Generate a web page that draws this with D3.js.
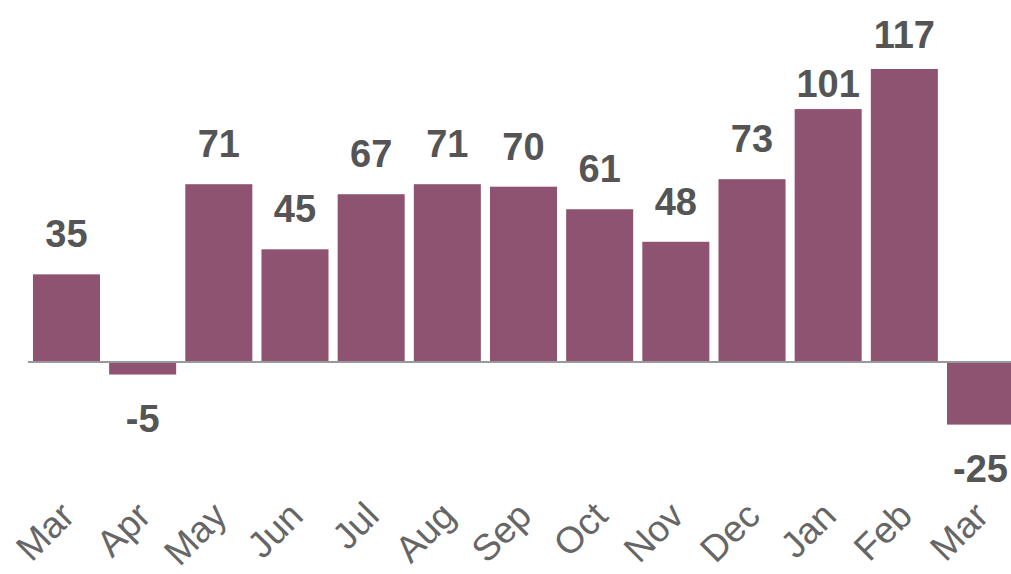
<!DOCTYPE html>
<html>
<head>
<meta charset="utf-8">
<script src="https://cdn.jsdelivr.net/npm/d3@7"></script>
<style>
  body { margin: 0; background: #fff; }
  svg { display: block; font-family: "Liberation Sans", Arial, sans-serif; }
</style>
</head>
<body>
<svg id="chart" width="1011" height="574"></svg>
<script>
// --- data ---
const months = ["Mar","Apr","May","Jun","Jul","Aug","Sep","Oct","Nov","Dec","Jan","Feb","Mar"];
const values = [35, -5, 71, 45, 67, 71, 70, 61, 48, 73, 101, 117, -25];

const width = 1011, height = 574;
const svg = d3.select("#chart");

const data = months.map((m, i) => ({ key: i, month: m, value: values[i] }));

const x = d3.scaleBand()
  .domain(data.map(d => d.key))
  .range([28.4, 1018.6])
  .paddingInner(0.12)
  .paddingOuter(0.06);

const y = d3.scaleLinear()
  .domain([0, 117])
  .range([362, 69]);

// bars
svg.append("g").selectAll("rect").data(data).join("rect")
  .attr("x", d => x(d.key))
  .attr("width", x.bandwidth())
  .attr("y", d => Math.min(y(d.value), y(0)))
  .attr("height", d => Math.abs(y(d.value) - y(0)))
  .attr("fill", "#8e5370");

// zero line
svg.append("line")
  .attr("x1", 28).attr("x2", width)
  .attr("y1", y(0)).attr("y2", y(0))
  .attr("stroke", "#999").attr("stroke-width", 2);

// value labels (the two tallest sit a bit closer to their bars in the original)
const nudge = { 10: 15, 11: 6 };
svg.append("g").selectAll("text").data(data).join("text")
  .attr("x", d => x(d.key) + x.bandwidth() / 2)
  .attr("y", d => d.value >= 0 ? y(d.value) - 27 + (nudge[d.key] || 0) : y(d.value) + 57)
  .attr("text-anchor", "middle")
  .attr("font-size", 38)
  .attr("font-weight", "bold")
  .attr("fill", "#555")
  .text(d => d.value);

// month labels
svg.append("g").selectAll("text").data(data).join("text")
  .attr("transform", d => `translate(${x(d.key) + x.bandwidth() / 2 + 10},518) rotate(-45)`)
  .attr("text-anchor", "end")
  .attr("font-size", 37)
  .attr("fill", "#666")
  .text(d => d.month);
</script>
</body>
</html>
